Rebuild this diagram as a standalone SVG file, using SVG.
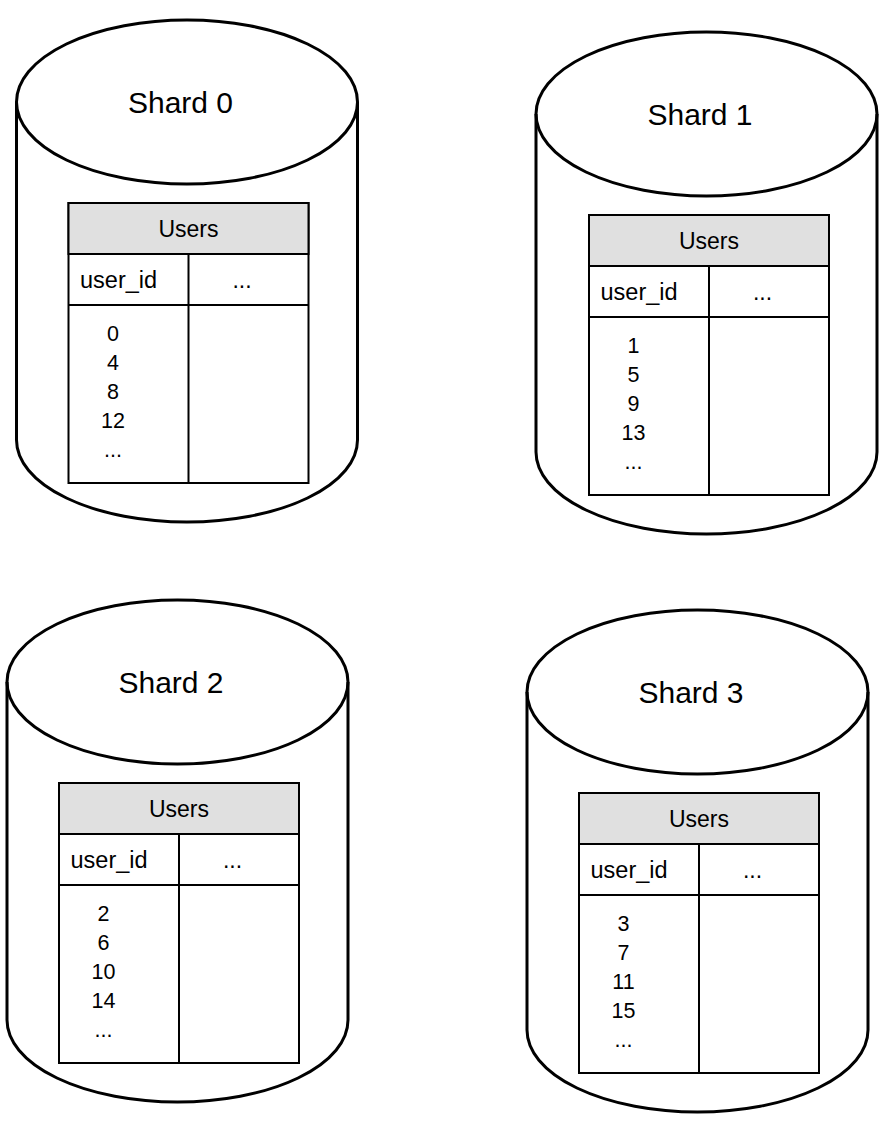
<svg xmlns="http://www.w3.org/2000/svg" width="882" height="1132" viewBox="0 0 882 1132">
<style>
.cyl{fill:#fff;stroke:#000;stroke-width:3}
.cyl-rim{fill:none;stroke:#000;stroke-width:3}
.tbl{fill:#fff;stroke:#000;stroke-width:2}
.hdr{fill:#e0e0e0;stroke:#000;stroke-width:2}
.ln{fill:none;stroke:#000;stroke-width:2}
text{font-family:"Liberation Sans",Arial,Helvetica,sans-serif;fill:#000}
.title{font-size:30px;text-anchor:middle}
.th{font-size:23px;text-anchor:middle}
.col{font-size:23.5px}
.num{font-size:21.5px;text-anchor:middle}
</style>
<defs>
<g id="cylinder">
<path class="cyl" d="M0,82 A170.5,82 0 0 1 341,82 L341,420 A170.5,82 0 0 1 0,420 Z"/>
<path class="cyl-rim" d="M0,82 A170.5,82 0 0 0 341,82"/>
</g>
<g id="table">
<rect class="tbl" x="0" y="0" width="240" height="280"/>
<rect class="hdr" x="0" y="0" width="240" height="51"/>
<path class="ln" d="M0,102 H240 M120,52 V280"/>
<text class="th" x="120" y="34">Users</text>
<text class="col" x="11.5" y="85">user_id</text>
<text class="th" x="173.5" y="85">...</text>
</g>
</defs>
<g id="shard0">
<use href="#cylinder" x="16.5" y="20"/>
<text class="title" x="180.5" y="113">Shard 0</text>
<use href="#table" x="68.5" y="203"/>
<text class="num" x="113" y="340.5">0</text>
<text class="num" x="113" y="369.7">4</text>
<text class="num" x="113" y="398.9">8</text>
<text class="num" x="113" y="428">12</text>
<text class="num" x="113" y="457">...</text>
</g>
<g id="shard1" transform="translate(519.5,12)">
<use href="#cylinder" x="16.5" y="20"/>
<text class="title" x="180.5" y="113">Shard 1</text>
<use href="#table" x="69.5" y="203"/>
<text class="num" x="114" y="340.5">1</text>
<text class="num" x="114" y="369.7">5</text>
<text class="num" x="114" y="398.9">9</text>
<text class="num" x="114" y="428">13</text>
<text class="num" x="114" y="457">...</text>
</g>
<g id="shard2" transform="translate(-9.5,580)">
<use href="#cylinder" x="16.5" y="20"/>
<text class="title" x="180.5" y="113">Shard 2</text>
<use href="#table" x="68.5" y="203"/>
<text class="num" x="113" y="340.5">2</text>
<text class="num" x="113" y="369.7">6</text>
<text class="num" x="113" y="398.9">10</text>
<text class="num" x="113" y="428">14</text>
<text class="num" x="113" y="457">...</text>
</g>
<g id="shard3" transform="translate(510.5,590)">
<use href="#cylinder" x="16.5" y="20"/>
<text class="title" x="180.5" y="113">Shard 3</text>
<use href="#table" x="68.5" y="203"/>
<text class="num" x="113" y="340.5">3</text>
<text class="num" x="113" y="369.7">7</text>
<text class="num" x="113" y="398.9">11</text>
<text class="num" x="113" y="428">15</text>
<text class="num" x="113" y="457">...</text>
</g>
<g id="connectors"/>
</svg>
